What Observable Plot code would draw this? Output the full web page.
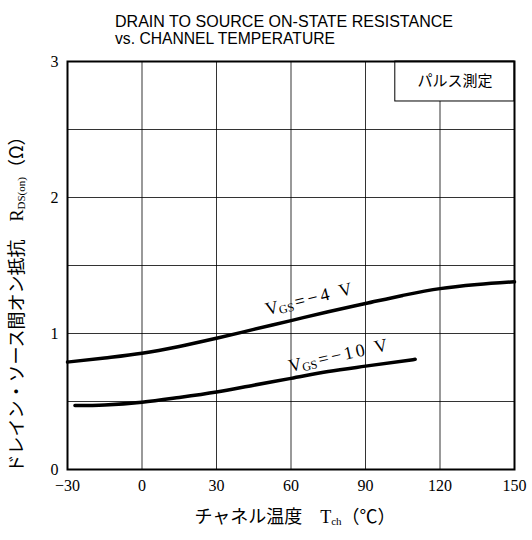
<!DOCTYPE html>
<html><head><meta charset="utf-8">
<script src="https://cdn.jsdelivr.net/npm/d3@7"></script>
<script src="https://cdn.jsdelivr.net/npm/@observablehq/plot@0.6"></script>
<style>body{margin:0;background:#fff}</style>
</head><body><div id="chart"></div>
<script>
const tempM4 = [-30,-15,0,15,30,45,60,75,90,105,120,135,150];
const rdsM4 = [0.79,0.82,0.855,0.905,0.965,1.03,1.095,1.16,1.22,1.28,1.33,1.36,1.38];
const tempM10 = [-27,-15,0,15,30,45,60,75,90,110];
const rdsM10 = [0.47,0.475,0.495,0.53,0.57,0.62,0.67,0.72,0.76,0.81];
const xTicks = [-30,0,30,60,90,120,150];
const yTicks = [0,1,2,3];
const yGrid = [0.5,1,1.5,2,2.5];
const xGrid = [0,30,60,90,120];
const titleLines = ["DRAIN TO SOURCE ON-STATE RESISTANCE","vs. CHANNEL TEMPERATURE"];
const legendText = "パルス測定";
const legendBox = [{x1:102, x2:150, y1:2.706, y2:3}];
const curveLabels = [
  {x:50.5, y:1.13, main:"V", sub:"GS", rest:"=−4 V", angle:-14},
  {x:59.8, y:0.713, main:"V", sub:"GS", rest:"=−10 V", angle:-12.5}
];

const serif = "'Liberation Serif','DejaVu Serif',serif";
const m4 = tempM4.map((t,i)=>({t, r:rdsM4[i]}));
const m10 = tempM10.map((t,i)=>({t, r:rdsM10[i]}));

const plot = Plot.plot({
  width: 532, height: 540,
  marginLeft: 67, marginRight: 18, marginTop: 61, marginBottom: 71,
  style: {fontFamily: serif, fontSize: "15px", background: "#fff", color: "#000"},
  x: {domain: [-30,150]},
  y: {domain: [0,3]},
  marks: [
    Plot.gridY(yGrid, {stroke:"#000", strokeOpacity:0.8, strokeWidth:1}),
    Plot.gridX(xGrid, {stroke:"#000", strokeOpacity:0.8, strokeWidth:1}),
    Plot.rect(legendBox, {x1:"x1", x2:"x2", y1:"y1", y2:"y2", fill:"#fff", stroke:"#000", strokeWidth:1}),
    Plot.text([legendText], {x:126, y:2.853, text:d=>d, fontFamily:"'Noto Sans CJK JP',sans-serif", fontSize:15}),
    Plot.line(m4, {x:"t", y:"r", curve:"monotone-x", stroke:"#000", strokeWidth:3.5}),
    Plot.line(m10, {x:"t", y:"r", curve:"monotone-x", stroke:"#000", strokeWidth:3.5}),
    Plot.frame({stroke:"#000", strokeWidth:2}),
    Plot.axisX(xTicks, {tickSize:0, tickPadding:10, fontSize:16, label:null, tickFormat:d=> d<0 ? "−"+(-d) : String(d)}),
    Plot.axisY(yTicks, {tickSize:0, tickPadding:9, fontSize:16, label:null, tickFormat:d=>String(d)})
  ]
});
document.getElementById("chart").append(plot);

const svg = d3.select(plot);
const sx = plot.scale("x"), sy = plot.scale("y");

// title
const tg = svg.append("g").attr("text-anchor","start").attr("font-family","'Liberation Sans Narrow','Liberation Sans',sans-serif").attr("font-size",16);
tg.append("text").attr("x",115).attr("y",27).attr("textLength",338).attr("lengthAdjust","spacingAndGlyphs").text(titleLines[0]);
tg.append("text").attr("x",115).attr("y",44).attr("textLength",220).attr("lengthAdjust","spacingAndGlyphs").text(titleLines[1]);

// curve labels
for (const c of curveLabels) {
  const t = svg.append("text")
    .attr("text-anchor","start")
    .attr("transform", `translate(${sx.apply(c.x)},${sy.apply(c.y)}) rotate(${c.angle})`)
    .attr("font-family", serif).attr("font-size", 18);
  t.append("tspan").text(c.main);
  t.append("tspan").attr("font-size",12).attr("dy",2).text(c.sub);
  t.append("tspan").attr("dy",-2).attr("dx",2).attr("letter-spacing",3).text(c.rest);
}

// y label
const yl = svg.append("text")
  .attr("transform", `translate(23,300) rotate(-90)`)
  .attr("text-anchor","middle").attr("font-size",18)
  .attr("font-family","'Liberation Serif','Noto Sans CJK JP',serif");
yl.append("tspan").attr("font-family","'Noto Sans CJK JP',sans-serif").text("ドレイン・ソース間オン抵抗　");
yl.append("tspan").text("R");
yl.append("tspan").attr("font-size",11).attr("dy",2).text("DS(on)");
yl.append("tspan").attr("dy",-2).attr("font-family","'Noto Sans CJK JP',sans-serif").text("（Ω）");

// x label
const xl = svg.append("text")
  .attr("x", 295).attr("y", 523)
  .attr("text-anchor","middle").attr("font-size",18)
  .attr("font-family","'Liberation Serif','Noto Sans CJK JP',serif");
xl.append("tspan").attr("font-family","'Noto Sans CJK JP',sans-serif").text("チャネル温度　");
xl.append("tspan").text("T");
xl.append("tspan").attr("font-size",11).attr("dy",2).text("ch");
xl.append("tspan").attr("dy",-2).attr("font-family","'Noto Sans CJK JP',sans-serif").text("（℃）");
</script>
</body></html>
